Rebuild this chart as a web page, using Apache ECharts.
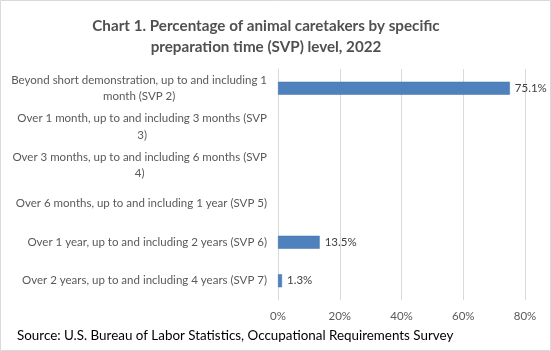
<!DOCTYPE html>
<html>
<head>
<meta charset="utf-8">
<script src="https://cdn.jsdelivr.net/npm/echarts@6/dist/echarts.min.js"></script>
<style>
  html, body { margin: 0; padding: 0; background: #fff; }
  #chart { width: 551px; height: 351px; }
</style>
</head>
<body>
<div id="chart"></div>
<script>
// categories (top to bottom), lines are wrapped like the original
var categories = [
  'Beyond short demonstration, up to and including 1\nmonth (SVP 2)',
  'Over 1 month, up to and including 3 months (SVP\n3)',
  'Over 3 months, up to and including 6 months (SVP\n4)',
  'Over 6 months, up to and including 1 year (SVP 5)',
  'Over 1 year, up to and including 2 years (SVP 6)',
  'Over 2 years, up to and including 4 years (SVP 7)'
];
// percent values, null = no estimate shown
var values = [75.1, null, null, null, 13.5, 1.3];
var xTicks = [0, 20, 40, 60, 80];

var myChart = echarts.init(document.getElementById('chart'));
var fontName = 'Lato, "Liberation Sans", sans-serif';

var option = {
  animation: false,
  title: [{
    text: 'Chart 1. Percentage of animal caretakers by specific\npreparation time (SVP) level, 2022',
    left: 261,
    top: 11,
    textAlign: 'center',
    textStyle: {
      fontFamily: fontName,
      fontSize: 15.2,
      fontWeight: 'bold',
      color: '#505050',
      lineHeight: 21,
      align: 'center'
    }
  }, {
    text: 'Source: U.S. Bureau of Labor Statistics, Occupational Requirements Survey',
    left: 12,
    top: 324,
    textStyle: {
      fontFamily: fontName,
      fontSize: 13.4,
      fontWeight: 'normal',
      color: '#000'
    }
  }],
  graphic: [{
    type: 'rect',
    shape: { x: 0.5, y: 0.5, width: 550, height: 350 },
    style: { fill: 'none', stroke: '#d9d9d9', lineWidth: 1 },
    silent: true
  }],
  grid: {
    left: 278,
    right: 26,
    top: 69,
    bottom: 51
  },
  xAxis: {
    type: 'value',
    min: xTicks[0],
    max: xTicks[xTicks.length - 1],
    interval: 20,
    axisLine: { show: false },
    axisTick: { show: false },
    splitLine: { lineStyle: { color: '#d9d9d9', width: 1 } },
    axisLabel: {
      formatter: '{value}%',
      margin: 10,
      fontFamily: fontName,
      fontSize: 11.5,
      color: '#595959'
    }
  },
  yAxis: {
    type: 'category',
    inverse: true,
    data: categories,
    axisLine: { show: true, lineStyle: { color: '#d9d9d9' } },
    axisTick: { show: false },
    axisLabel: {
      margin: 11,
      formatter: function (v) {
        return v.split('\n').map(function (s) { return '{c|' + s + '}'; }).join('\n');
      },
      rich: {
        c: {
          align: 'center',
          fontFamily: fontName,
          fontSize: 11.5,
          lineHeight: 16.5,
          color: '#595959'
        }
      }
    }
  },
  series: [{
    type: 'bar',
    data: values,
    barWidth: 13,
    itemStyle: {
      color: '#4f81bd',
      borderColor: '#4572a7',
      borderWidth: 0.5
    },
    label: {
      show: true,
      position: 'right',
      distance: 5,
      formatter: function (p) { return p.value == null ? '' : p.value.toFixed(1) + '%'; },
      fontFamily: fontName,
      fontSize: 11.5,
      color: '#404040'
    }
  }]
};
myChart.setOption(option);
</script>
</body>
</html>
